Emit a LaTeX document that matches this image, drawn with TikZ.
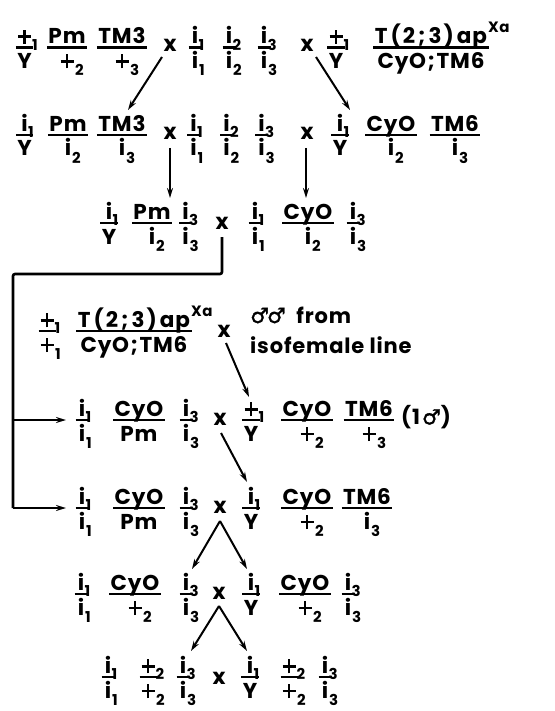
\documentclass[tikz,border=0pt]{standalone}
\usepackage{fontspec}
\setmainfont{Poppins}[LetterSpace=4]
\newfontfamily\symf{DejaVu Sans Bold}[FakeBold=1.5]
\usetikzlibrary{arrows.meta}
\newcommand\subf{\fontsize{15}{15}\selectfont}
\newcommand\nsb[1]{\rlap{\kern0.5pt\raisebox{-6.5pt}{\subf #1}}}
\newcommand\dsb[1]{\rlap{\kern1pt\raisebox{-7.5pt}{\subf #1}}}
\newcommand\male{{\symf ♂}}
\newcommand\pl{\kern0.5pt\rlap{\rule[5.6pt]{13pt}{2.8pt}}\kern5.1pt\rule{2.8pt}{14pt}\kern5.1pt\kern0.5pt}
\newcommand\tap{T\kern3pt(\kern2pt2\kern3pt;\kern3pt3\kern2pt)\kern3pt a\kern1pt p\rlap{\kern1pt\raisebox{11pt}{\subf Xa}}}
\newcommand\cyt{CyO\kern1.5pt;\kern1.5pt TM6}
\newcommand\gf[2]{%
  \vbox{\offinterlineskip\halign{\hfil\kern1.5pt##\kern1.5pt\hfil\cr
    \kern10pt\cr
    \raisebox{0pt}[\height][0pt]{#1}\cr
    \noalign{\kern2.2pt\hrule height2.8pt}
    \rule{0pt}{19.6pt}#2\cr}}}
\tikzset{
  frac/.style={anchor=base, yshift=-21pt, inner sep=0pt, font=\fontsize{21.5}{21.5}\selectfont\bfseries},
  cross/.style={inner sep=0pt, font=\fontsize{22}{22}\selectfont\bfseries},
  lbl/.style={anchor=base west, inner sep=0pt, font=\fontsize{21}{21}\selectfont\bfseries},
  arr/.style={line width=2pt, -{Stealth[length=10pt,width=6pt]}},
  brk/.style={line width=2.6pt, rounded corners=2pt}
}
\newcommand\G[5]{\node[frac] (#1) at (#2,#3) {\gf{#4}{#5}};}
\begin{document}
\begin{tikzpicture}[x=1pt,y=-1pt]
\path[fill=white,use as bounding box] (0,0) rectangle (554,711);
% Row 1
\G{a1}{24.5}{47.5}{\pl\nsb1}{Y}
\G{a2}{67}{47.5}{Pm}{\pl\dsb2}
\G{a3}{122}{47.5}{TM3}{\pl\dsb3}
\node[cross] (xa1) at (170,45) {x};
\G{a4}{195}{47.5}{i\nsb1}{i\dsb1}
\G{a5}{229}{47.5}{i\nsb2}{i\dsb2}
\G{a6}{264}{47.5}{i\nsb3}{i\dsb3}
\node[cross] (xa2) at (307,45) {x};
\G{a7}{336}{47.5}{\pl\nsb1}{Y}
\G{a8}{431}{47.5}{\tap}{\cyt}
% Row 2
\G{b1}{24.5}{135}{i\nsb1}{Y}
\G{b2}{68}{135}{Pm}{i\dsb2}
\G{b3}{122}{135}{TM3}{i\dsb3}
\node[cross] (xb1) at (170,133) {x};
\G{b4}{193.5}{135}{i\nsb1}{i\dsb1}
\G{b5}{226.5}{135}{i\nsb2}{i\dsb2}
\G{b6}{261.5}{135}{i\nsb3}{i\dsb3}
\node[cross] (xb2) at (307,133) {x};
\G{b7}{340}{135}{i\nsb1}{Y}
\G{b8}{391}{135}{CyO}{i\dsb2}
\G{b9}{455}{135}{TM6}{i\dsb3}
% Row 3
\G{c1}{109}{223}{i\nsb1}{Y}
\G{c2}{152}{223}{Pm}{i\dsb2}
\G{c3}{185.5}{223}{i\nsb3}{i\dsb3}
\node[cross] (xc1) at (222,223) {x};
\G{c4}{255}{223}{i\nsb1}{i\dsb1}
\G{c5}{308}{223}{CyO}{i\dsb2}
\G{c6}{353}{223}{i\nsb3}{i\dsb3}
% Parents
\G{p1}{47}{331}{\pl\nsb1}{\pl\dsb1}
\G{p2}{134}{331}{\tap}{\cyt}
\node[cross] (xp) at (224,331) {x};
\node[lbl] (l1) at (250,323) {\male\kern-2pt\male\ \ from};
\node[lbl] (l2) at (250,353) {isofemale line};
% Row 4
\G{d1}{82}{420}{i\nsb1}{i\dsb1}
\G{d2}{139}{420}{CyO}{Pm}
\G{d3}{186}{420}{i\nsb3}{i\dsb3}
\node[cross] (xd1) at (220,419) {x};
\G{d4}{251}{420}{\pl\nsb1}{Y}
\G{d5}{307}{420}{CyO}{\pl\dsb2}
\G{d6}{369}{420}{TM6}{\pl\dsb3}
\node[lbl, anchor=west] (d7) at (401,417) {(1\kern2pt\male)};
% Row 5
\G{e1}{82}{508}{i\nsb1}{i\dsb1}
\G{e2}{139}{508}{CyO}{Pm}
\G{e3}{186}{508}{i\nsb3}{i\dsb3}
\node[cross] (xe1) at (220,507) {x};
\G{e4}{251}{508}{i\nsb1}{Y}
\G{e5}{307}{508}{CyO}{\pl\dsb2}
\G{e6}{367}{508}{TM6}{i\dsb3}
% Row 6
\G{f1}{81}{594}{i\nsb1}{i\dsb1}
\G{f2}{135}{594}{CyO}{\pl\dsb2}
\G{f3}{186}{594}{i\nsb3}{i\dsb3}
\node[cross] (xf1) at (219,593) {x};
\G{f4}{251}{594}{i\nsb1}{Y}
\G{f5}{305}{594}{CyO}{\pl\dsb2}
\G{f6}{348}{594}{i\nsb3}{i\dsb3}
% Row 7
\G{g1}{108}{677}{i\nsb1}{i\dsb1}
\G{g2}{148}{677}{\pl\nsb2}{\pl\dsb2}
\G{g3}{183}{677}{i\nsb3}{i\dsb3}
\node[cross] (xg1) at (219,678) {x};
\G{g4}{250}{677}{i\nsb1}{Y}
\G{g5}{289}{677}{\pl\nsb2}{\pl\dsb2}
\G{g6}{325}{677}{i\nsb3}{i\dsb3}
% connector coordinates
\coordinate (s1) at (162,57);  \coordinate (t1) at (128,110);
\coordinate (s2) at (316,57);  \coordinate (t2) at (350,110);
\coordinate (s3) at (170,148); \coordinate (t3) at (170,198);
\coordinate (s4) at (306,148); \coordinate (t4) at (306,198);
\coordinate (k0) at (222,237); \coordinate (k1) at (222,274);
\coordinate (k2) at (13,274);  \coordinate (k3) at (13,508);
\coordinate (k4) at (13,420);
\coordinate (t5) at (66,420);  \coordinate (t6) at (66,508);
\coordinate (s7) at (226,343); \coordinate (t7) at (249,397);
\coordinate (s8) at (221,433); \coordinate (t8) at (247,482);
\coordinate (s9) at (220,521); \coordinate (t9a) at (192,569); \coordinate (t9b) at (247,569);
\coordinate (s10) at (219,606); \coordinate (t10a) at (191,651); \coordinate (t10b) at (247,651);
% connectors
\draw[arr] (s1) -- (t1);
\draw[arr] (s2) -- (t2);
\draw[arr] (s3) -- (t3);
\draw[arr] (s4) -- (t4);
\draw[brk] (k0) -- (k1) -- (k2) -- (k3);
\draw[arr, line width=2.2pt] (k3) -- (t6);
\draw[arr, line width=2.2pt] (k4) -- (t5);
\draw[arr] (s7) -- (t7);
\draw[arr] (s8) -- (t8);
\draw[arr] (s9) -- (t9a);
\draw[arr] (s9) -- (t9b);
\draw[arr] (s10) -- (t10a);
\draw[arr] (s10) -- (t10b);
\end{tikzpicture}
\end{document}
